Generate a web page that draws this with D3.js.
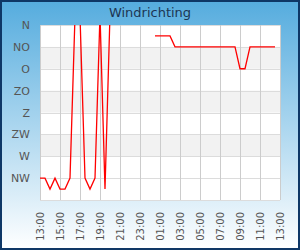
<!DOCTYPE html>
<html><head><meta charset="utf-8">
<script src="https://cdn.jsdelivr.net/npm/d3@7"></script>
<style>html,body{margin:0;padding:0;background:#fff}svg{display:block}</style>
</head><body>
<script>
const title = "Windrichting";
const dirLabels = ["N","NO","O","ZO","Z","ZW","W","NW"];
const dirDegrees = [0,45,90,135,180,225,270,315];
const timeLabels = ["13:00","15:00","17:00","19:00","21:00","23:00","01:00","03:00","05:00","07:00","09:00","11:00","13:00"];
// half-hourly samples starting 13:00
const times = ["13:00","13:30","14:00","14:30","15:00","15:30","16:00","16:30","17:00","17:30","18:00","18:30","19:00","19:30","20:00","20:30","21:00","21:30","22:00","22:30","23:00","23:30","00:00","00:30","01:00","01:30","02:00","02:30","03:00","03:30","04:00","04:30","05:00","05:30","06:00","06:30","07:00","07:30","08:00","08:30","09:00","09:30","10:00","10:30","11:00","11:30","12:00","12:30"];
const direction = [315,315,337.5,315,337.5,337.5,315,-18,-18,315,337.5,315,-22,337.5,-22,
  null,null,null,null,null,null,null,null,
  22.5,22.5,22.5,22.5,45,45,45,45,45,45,45,45,45,45,45,45,45,90,90,45,45,45,45,45,45];

const W = 300, H = 250;
const m = {l:40, r:20, t:25, b:50};
const svg = d3.select("body").append("svg").attr("width", W).attr("height", H);
const defs = svg.append("defs");
const g1 = defs.append("linearGradient").attr("id","bg").attr("x1",0).attr("y1",0).attr("x2",0).attr("y2",1);
g1.append("stop").attr("offset","0%").attr("stop-color","#55acde");
g1.append("stop").attr("offset","100%").attr("stop-color","#ffffff");
defs.append("clipPath").attr("id","clip").append("rect")
  .attr("x",m.l).attr("y",m.t).attr("width",W-m.l-m.r).attr("height",H-m.t-m.b);

svg.append("rect").attr("x",1).attr("y",1).attr("width",W-2).attr("height",H-2)
  .attr("fill","url(#bg)").attr("stroke","#0e3766").attr("stroke-width",2);

// hours since 13:00 for each sample label
const hoursSince = s => { const [hh,mm] = s.split(":").map(Number); return ((hh - 13 + 24) % 24) + mm/60; };
const x = d3.scaleLinear().domain([0,24]).range([m.l, W-m.r]);
const y = d3.scaleLinear().domain([0,360]).range([m.t, H-m.b]);
const tickHours = timeLabels.map((s,i)=> 2*i);

const plot = svg.append("g");
plot.append("rect").attr("x",m.l).attr("y",m.t).attr("width",W-m.l-m.r).attr("height",H-m.t-m.b).attr("fill","#fff");
// alternating bands
[45,135,225].forEach(d => plot.append("rect").attr("x",m.l).attr("width",W-m.l-m.r)
  .attr("y",y(d)).attr("height",y(d+45)-y(d)).attr("fill","#f2f2f2"));

// horizontal grid
plot.append("g").selectAll("line").data(dirDegrees.concat([360])).join("line")
  .attr("x1",m.l).attr("x2",W-m.r).attr("y1",d=>Math.round(y(d))+0.5).attr("y2",d=>Math.round(y(d))+0.5)
  .attr("stroke","#dcdcdc").attr("stroke-width",1);
// vertical grid
plot.append("g").selectAll("line").data(tickHours).join("line")
  .attr("y1",m.t).attr("y2",H-m.b).attr("x1",d=>Math.round(x(d))+0.5).attr("x2",d=>Math.round(x(d))+0.5)
  .attr("stroke","#cccccc").attr("stroke-width",1);

// line
const pts = times.map((s,i)=>({h:hoursSince(s), v:direction[i]}));
const line = d3.line().defined(d=>d.v!==null).x(d=>x(d.h)).y(d=>y(d.v));
svg.append("path").datum(pts).attr("clip-path","url(#clip)")
  .attr("d",line).attr("fill","none").attr("stroke","#ff0000").attr("stroke-width",1.3);

// y axis labels
const yAxis = d3.axisLeft(y).tickValues(dirDegrees).tickFormat((d,i)=>dirLabels[i]).tickSize(0).tickPadding(10);
const ya = svg.append("g").attr("transform",`translate(${m.l},0)`).call(yAxis);
ya.select(".domain").remove();
ya.selectAll("text").attr("font-family","DejaVu Sans").attr("font-size",11).attr("fill","#555");

// x axis labels
const xAxis = d3.axisBottom(x).tickValues(tickHours).tickFormat((d,i)=>timeLabels[i]).tickSize(0);
const xa = svg.append("g").attr("transform",`translate(0,${H-m.b})`).call(xAxis);
xa.select(".domain").remove();
xa.selectAll("text").attr("font-family","DejaVu Sans").attr("font-size",10).attr("fill","#555")
  .attr("transform","rotate(-90)").attr("text-anchor","end").attr("x",-12).attr("y",0).attr("dy","0.35em");

svg.append("text").attr("x",W/2).attr("y",17).attr("text-anchor","middle")
  .attr("font-family","DejaVu Sans").attr("font-size",13).attr("fill","#1c3553").text(title);
</script>
</body></html>
